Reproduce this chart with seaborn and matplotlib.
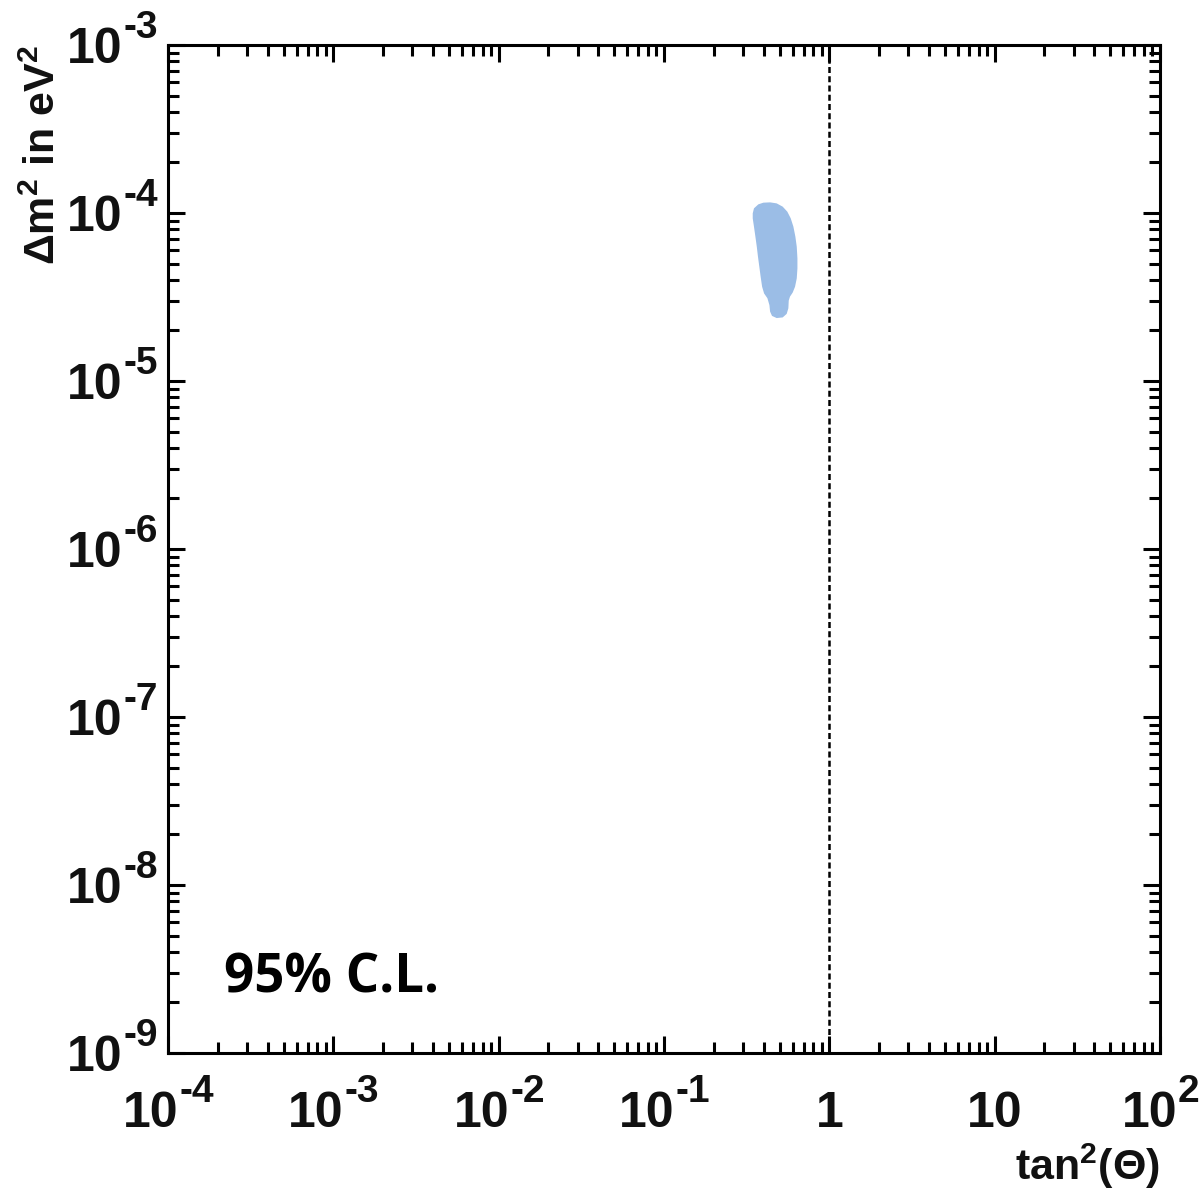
import numpy as np
import seaborn as sns
import matplotlib.pyplot as plt
from matplotlib.ticker import LogLocator, NullFormatter

# allowed region (95% C.L.), outline (tan^2, dm^2 in eV^2)
tan2_edge = [0.344, 0.350, 0.372, 0.399, 0.438, 0.480, 0.522, 0.557, 0.584, 0.606,
             0.623, 0.635, 0.641, 0.641, 0.635, 0.620, 0.600, 0.578, 0.568, 0.565,
             0.552, 0.522, 0.480, 0.450, 0.438, 0.434, 0.422, 0.403, 0.392, 0.384,
             0.377, 0.370, 0.364, 0.357, 0.350, 0.344]
dm2_edge = [9.95e-5, 1.066e-4, 1.126e-4, 1.152e-4, 1.157e-4, 1.141e-4, 1.091e-4, 1.018e-4, 9.29e-5, 8.29e-5,
            7.23e-5, 6.30e-5, 5.37e-5, 4.68e-5, 4.08e-5, 3.64e-5, 3.36e-5, 3.18e-5, 3.01e-5, 2.71e-5,
            2.51e-5, 2.39e-5, 2.37e-5, 2.44e-5, 2.59e-5, 2.83e-5, 3.11e-5, 3.32e-5, 3.64e-5, 4.18e-5,
            4.79e-5, 5.50e-5, 6.30e-5, 7.23e-5, 8.29e-5, 9.29e-5]

x_ticks = [1e-4, 1e-3, 1e-2, 1e-1, 1, 10, 1e2]
x_base = ["10", "10", "10", "10", "1", "10", "10"]
x_exp = ["-4", "-3", "-2", "-1", "", "", "2"]
y_ticks = [1e-9, 1e-8, 1e-7, 1e-6, 1e-5, 1e-4, 1e-3]
y_base = ["10"] * 7
y_exp = ["-9", "-8", "-7", "-6", "-5", "-4", "-3"]
maximal_mixing = 1.0

sns.set_theme(style="ticks")
plt.rcParams["font.family"] = ["Liberation Sans", "DejaVu Sans"]
plt.rcParams["font.weight"] = "bold"
plt.rcParams["mathtext.fontset"] = "custom"
plt.rcParams["mathtext.rm"] = "Liberation Sans:bold"
plt.rcParams["mathtext.it"] = "Liberation Sans:bold"
plt.rcParams["mathtext.bf"] = "Liberation Sans:bold"

fig = plt.figure(figsize=(12, 12), dpi=100)
ax = fig.add_axes([0.14, 0.1225, 0.8267, 0.84])

ax.fill(tan2_edge, dm2_edge, color="#9bbde6", lw=0)
ax.axvline(maximal_mixing, color="black", lw=1.8, ls=(0, (2.4, 1.3)))

ax.set_xscale("log")
ax.set_yscale("log")
ax.set_xlim(x_ticks[0], x_ticks[-1])
ax.set_ylim(y_ticks[0], y_ticks[-1])
ax.set_xticks(x_ticks)
ax.set_yticks(y_ticks)
ax.xaxis.set_minor_locator(LogLocator(base=10, subs=np.arange(2, 10), numticks=20))
ax.yaxis.set_minor_locator(LogLocator(base=10, subs=np.arange(2, 10), numticks=20))
ax.xaxis.set_minor_formatter(NullFormatter())
ax.yaxis.set_minor_formatter(NullFormatter())

ax.tick_params(which="both", direction="in", top=True, right=True, width=2.2, color="black",
               labelbottom=False, labelleft=False)
ax.tick_params(which="major", length=12)
ax.tick_params(which="minor", length=8)
for s in ax.spines.values():
    s.set_linewidth(2.2)
    s.set_color("black")

# tick labels with big superscripts, "10" + exponent drawn as two texts
BASE_FS, EXP_FS = 36, 28
col = "#111111"
renderer = fig.canvas.get_renderer()

def text_width(s, fs):
    t = fig.text(0, 0, s, fontsize=fs, fontweight="bold")
    w = t.get_window_extent(renderer).width
    t.remove()
    return w

xtr = ax.get_xaxis_transform()
for t, b, e in zip(x_ticks, x_base, x_exp):
    wb = text_width(b, BASE_FS)
    we = text_width(e, EXP_FS) if e else 0
    dx = (wb - we) / 2
    ax.annotate(b, xy=(t, 0), xycoords=xtr, xytext=(dx, -74), textcoords="offset pixels",
                ha="right", va="baseline", fontsize=BASE_FS, fontweight="bold", color=col)
    if e:
        ax.annotate(e, xy=(t, 0), xycoords=xtr, xytext=(dx + 1, -49), textcoords="offset pixels",
                    ha="left", va="baseline", fontsize=EXP_FS, fontweight="bold", color=col)

ytr = ax.get_yaxis_transform()
for t, b, e in zip(y_ticks, y_base, y_exp):
    we = text_width(e, EXP_FS)
    ax.annotate(e, xy=(0, t), xycoords=ytr, xytext=(-10, 7), textcoords="offset pixels",
                ha="right", va="baseline", fontsize=EXP_FS, fontweight="bold", color=col)
    ax.annotate(b, xy=(0, t), xycoords=ytr, xytext=(-11 - we, -18), textcoords="offset pixels",
                ha="right", va="baseline", fontsize=BASE_FS, fontweight="bold", color=col)

ax.set_xlabel(r"tan$^{2}$($\Theta$)", fontsize=31, fontweight="bold", loc="right", color=col)
ax.xaxis.set_label_coords(1.0, -0.137)
ax.xaxis.label.set_va("bottom")
ax.set_ylabel(r"$\Delta$m$^{2}$ in eV$^{2}$", fontsize=31, fontweight="bold", loc="top", color=col)
ax.yaxis.set_label_coords(-0.105, 1.0)

ax.text(0.056, 0.06, "95% C.L.", transform=ax.transAxes, fontsize=38, fontweight="bold",
        family=["Open Sans", "DejaVu Sans"], color="black")

fig.savefig("out.png", dpi=100, facecolor="white")
